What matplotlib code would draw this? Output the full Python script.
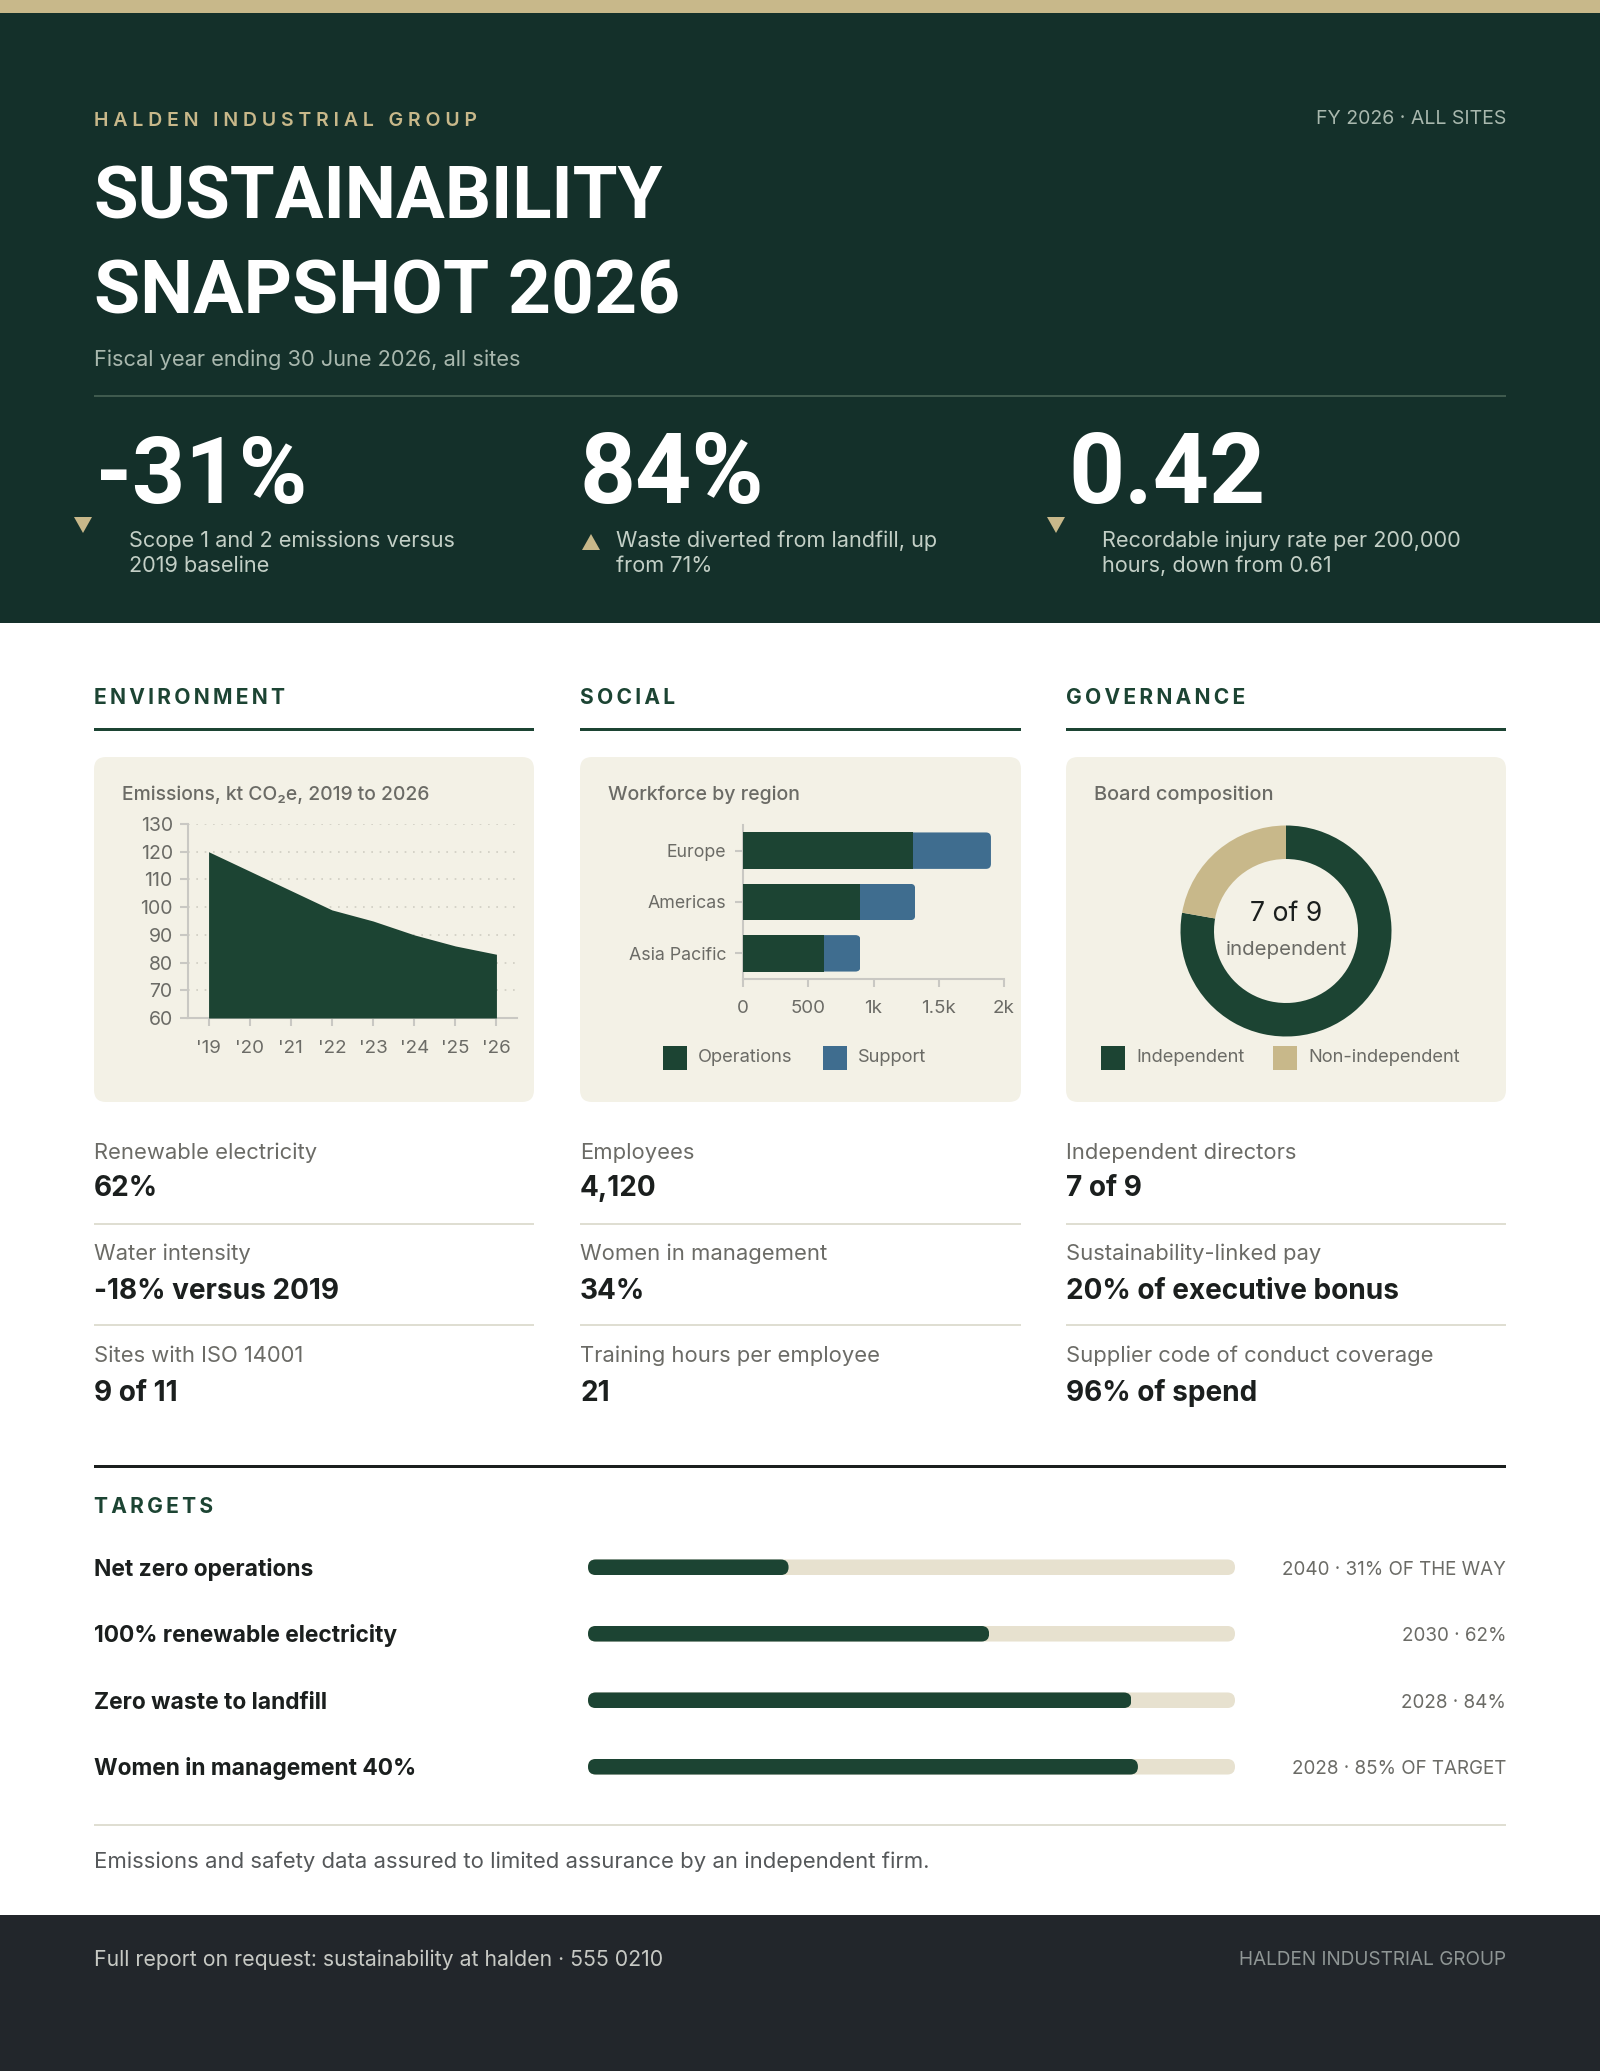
import matplotlib
matplotlib.use('Agg')
import matplotlib.pyplot as plt
from matplotlib.patches import Rectangle, FancyBboxPatch, Polygon
from matplotlib.transforms import IdentityTransform

plt.rcParams['font.family'] = ['Inter', 'DejaVu Sans']

# data
years = ["'19", "'20", "'21", "'22", "'23", "'24", "'25", "'26"]
emissions = [120, 113, 106, 99, 95, 90, 86, 83]
emission_ticks = [60, 70, 80, 90, 100, 110, 120, 130]

regions = ['Europe', 'Americas', 'Asia Pacific']
operations = [1300, 900, 620]
support = [600, 420, 280]
workforce_ticks = [0, 500, 1000, 1500, 2000]
workforce_labels = ['0', '500', '1k', '1.5k', '2k']

board_counts = [7, 2]

kpi_values = ['-31%', '84%', '0.42']
kpi_notes = [['Scope 1 and 2 emissions versus', '2019 baseline'],
             ['Waste diverted from landfill, up', 'from 71%'],
             ['Recordable injury rate per 200,000', 'hours, down from 0.61']]

section_names = ['ENVIRONMENT', 'SOCIAL', 'GOVERNANCE']
stat_labels = [['Renewable electricity', 'Water intensity', 'Sites with ISO 14001'],
               ['Employees', 'Women in management', 'Training hours per employee'],
               ['Independent directors', 'Sustainability-linked pay', 'Supplier code of conduct coverage']]
stat_values = [['62%', '-18% versus 2019', '9 of 11'],
               ['4,120', '34%', '21'],
               ['7 of 9', '20% of executive bonus', '96% of spend']]

target_names = ['Net zero operations', '100% renewable electricity', 'Zero waste to landfill', 'Women in management 40%']
target_progress = [31, 62, 84, 85]
target_notes = ['2040 · 31% OF THE WAY', '2030 · 62%', '2028 · 84%', '2028 · 85% OF TARGET']

GREEN = '#1c4433'
DARK = '#14302a'
TAN = '#c8b88a'
BLUE = '#3f6d8f'
CARD = '#f3f1e6'
TRACK = '#e7e1cf'
INK = '#1b1f1e'
GREY = '#6b6b66'
RULE = '#dfded2'
AXIS = '#c9c8c3'

W, H = 1600, 2071
fig = plt.figure(figsize=(W / 100, H / 100), dpi=100)
bg = fig.add_axes([0, 0, 1, 1])
bg.set_xlim(0, W)
bg.set_ylim(H, 0)
bg.axis('off')


def px_axes(x0, y0, x1, y1):
    ax = fig.add_axes([x0 / W, 1 - y1 / H, (x1 - x0) / W, (y1 - y0) / H])
    ax.patch.set_alpha(0)
    return ax


def label(x, y, s, px, color=INK, weight='normal', ha='left', track=None, family=None):
    # y is the visual middle of the text, px the font size in pixels
    if track:
        s = track.join(s)
    kw = {'family': family} if family else {}
    return bg.text(x, y + 0.36 * px, s, fontsize=px * 0.72, color=color, weight=weight,
                   ha=ha, va='baseline', **kw)


def rect(x0, y0, x1, y1, color):
    bg.add_patch(Rectangle((x0, y0), x1 - x0, y1 - y0, facecolor=color, edgecolor='none'))


def round_bar(bar, radius, left=True):
    # clips a bar to a rounded box, drawn in display pixels
    fig.canvas.draw()
    box = bar.get_window_extent()
    x0 = box.x0 if left else box.x0 - 3 * radius
    clip = FancyBboxPatch((x0 + radius, box.y0 + radius), box.x1 - x0 - 2 * radius, box.height - 2 * radius,
                          boxstyle=f'round,pad={radius},rounding_size={radius}',
                          transform=IdentityTransform(), facecolor='none', edgecolor='none')
    bar.set_clip_path(clip)


# header
rect(0, 0, W, 13, TAN)
rect(0, 13, W, 623, DARK)
label(94, 119, 'HALDEN INDUSTRIAL GROUP', 19.5, TAN, 'semibold', track='\u2009\u200a')
label(1506, 117, 'FY 2026 · ALL SITES', 19.5, '#a9b8ae', ha='right')
title_font = ['Roboto', 'DejaVu Sans']
label(94, 192, 'SUSTAINABILITY', 72.5, 'white', 'bold', family=title_font)
label(94, 287, 'SNAPSHOT 2026', 75, 'white', 'bold', family=title_font)
label(94, 358, 'Fiscal year ending 30 June 2026, all sites', 21.8, '#a9b8ae')
rect(94, 395, 1506, 397, '#3f5a4e')

kpi_x = [96, 580, 1068]
kpi_px = [93, 98, 98]
note_x = [129, 616, 1102]
for i in range(3):
    bg.text(kpi_x[i], 503, kpi_values[i], fontsize=kpi_px[i] * 0.72, color='white', weight='bold', ha='left', va='baseline',
            family=title_font)
    label(note_x[i], 539, kpi_notes[i][0], 21.7, '#c3cfc6')
    label(note_x[i], 564, kpi_notes[i][1], 21.7, '#c3cfc6')
bg.add_patch(Polygon([(74, 517), (92, 517), (83, 533)], facecolor=TAN, edgecolor='none'))
bg.add_patch(Polygon([(582, 550), (600, 550), (591, 534)], facecolor=TAN, edgecolor='none'))
bg.add_patch(Polygon([(1047, 517), (1065, 517), (1056, 533)], facecolor=TAN, edgecolor='none'))

# columns
col_x = [94, 580, 1066]
col_end = [534, 1021, 1506]
stat_label_y = [1151, 1252, 1354]
stat_value_y = [1186, 1289, 1391]
for c in range(3):
    label(col_x[c], 696, section_names[c], 21, GREEN, 'bold', track='\u2009')
    rect(col_x[c], 728, col_end[c], 730.5, GREEN)
    bg.add_patch(FancyBboxPatch((col_x[c] + 12, 757 + 12), col_end[c] - col_x[c] - 24, 345 - 24,
                                boxstyle='round,pad=12,rounding_size=12', facecolor=CARD, edgecolor='none'))
    for r in range(3):
        label(col_x[c], stat_label_y[r], stat_labels[c][r], 22, GREY)
        label(col_x[c], stat_value_y[r], stat_values[c][r], 28, INK, 'bold')
    rect(col_x[c], 1223, col_end[c], 1225, RULE)
    rect(col_x[c], 1324, col_end[c], 1326, RULE)

label(122, 793, 'Emissions, kt CO₂e, 2019 to 2026', 19.3, GREY, 'medium')
label(608, 793, 'Workforce by region', 19.5, GREY, 'medium')
label(1094, 793, 'Board composition', 20, GREY, 'medium')

# area chart
ax = px_axes(188, 824, 517, 1018)
ax.fill_between(range(len(years)), emissions, 60, color=GREEN, linewidth=0, zorder=3)
ax.set_xlim(-0.5, 7.5)
ax.set_ylim(60, 130)
ax.set_xticks(range(len(years)), years)
ax.set_yticks(emission_ticks)
ax.grid(axis='y', linestyle=(0, (1, 4)), color='#cfcdc2', linewidth=1.2)
ax.set_axisbelow(True)
for s in ['top', 'right']:
    ax.spines[s].set_visible(False)
for s in ['left', 'bottom']:
    ax.spines[s].set_color(AXIS)
    ax.spines[s].set_linewidth(1.5)
ax.tick_params(axis='x', length=6, width=1.5, color=AXIS, labelcolor=GREY, labelsize=13.5, pad=10)
ax.tick_params(axis='y', length=6, width=1.5, color=AXIS, labelcolor=GREY, labelsize=14, pad=5)

# stacked bars
ax = px_axes(743, 825, 1004, 979)
ypos = range(len(regions))
ax.barh(ypos, operations, height=0.71, color=GREEN, zorder=3)
sup_bars = ax.barh(ypos, support, left=operations, height=0.71, color=BLUE, zorder=3)
ax.set_xlim(0, 2000)
ax.set_ylim(2.5, -0.5)
ax.set_yticks(ypos, regions)
ax.set_xticks(workforce_ticks, workforce_labels)
for s in ['top', 'right']:
    ax.spines[s].set_visible(False)
for s in ['left', 'bottom']:
    ax.spines[s].set_color(AXIS)
    ax.spines[s].set_linewidth(1.5)
ax.tick_params(axis='x', length=6, width=1.5, color=AXIS, labelcolor=GREY, labelsize=13.5, pad=9)
ax.tick_params(axis='y', length=6, width=1.5, color=AXIS, labelcolor=GREY, labelsize=12.8, pad=6)
for b in sup_bars:
    round_bar(b, 5, left=False)

# legends
swatches = [(663, GREEN, 'Operations'), (823, BLUE, 'Support'), (1101, GREEN, 'Independent'), (1273, TAN, 'Non-independent')]
for sx, col, name in swatches:
    rect(sx, 1046, sx + 24, 1070, col)
    label(sx + 35, 1055, name, 18.3, GREY)

# donut
ax = px_axes(1286 - 110, 931 - 110, 1286 + 110, 931 + 110)
ax.pie(board_counts, colors=[GREEN, TAN], startangle=90, counterclock=False, radius=105.5 / 110,
       wedgeprops={'width': 33.5 / 110, 'linewidth': 0})
ax.set_xlim(-1, 1)
ax.set_ylim(-1, 1)
label(1286, 911, '7 of 9', 26.5, INK, ha='center')
label(1286, 948, 'independent', 20.5, GREY, ha='center')

# targets
rect(94, 1465, 1506, 1467.5, INK)
label(94, 1505, 'TARGETS', 21, GREEN, 'bold', track='\u2009')
ax = px_axes(588, 1534, 1235, 1800)
ypos = range(len(target_names))
tracks = ax.barh(ypos, [100] * 4, height=0.234, color=TRACK)
fills = ax.barh(ypos, target_progress, height=0.234, color=GREEN)
ax.set_xlim(0, 100)
ax.set_ylim(3.5, -0.5)
ax.axis('off')
for b in list(tracks) + list(fills):
    round_bar(b, 7.7)
row_y = [1568, 1634, 1701, 1767]
for i in range(4):
    label(94, row_y[i], target_names[i], 22.8, INK, 'bold')
    label(1506, row_y[i], target_notes[i], 18.8, GREY, ha='right')

# footer
rect(94, 1823.5, 1506, 1825.5, RULE)
label(94, 1860, 'Emissions and safety data assured to limited assurance by an independent firm.', 22.1, '#55585a')
rect(0, 1915, W, H, '#22262b')
label(94, 1958, 'Full report on request: sustainability at halden · 555 0210', 21.3, '#c7c9c4')
label(1506, 1958, 'HALDEN INDUSTRIAL GROUP', 19, '#8f9695', ha='right')

fig.savefig('out.png', dpi=100)
